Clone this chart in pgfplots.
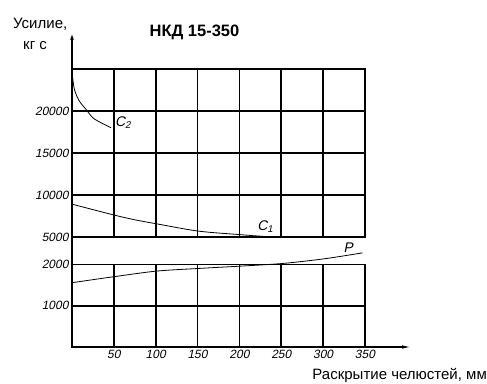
\documentclass[border=0pt]{standalone}
\usepackage{fontspec}
\setmainfont{Liberation Sans}
\newfontfamily\slsans{Liberation Sans}[FakeSlant=0.2]
\usepackage{pgfplots}
\pgfplotsset{compat=1.18}
\usetikzlibrary{arrows.meta}
\begin{document}
\begin{tikzpicture}
\useasboundingbox (0pt,0pt) rectangle (487pt,383pt);
\pgfplotsset{
  myax/.style={
    anchor=south west, scale only axis, width=293pt,
    xmin=0, xmax=350, xtick={0,50,...,350},
    grid=major, major grid style={black, line width=1.6pt},
    axis line style={black, line width=1.6pt},
    major tick length=0pt,
    clip=false,
    scaled y ticks=false, scaled x ticks=false,
    /pgf/number format/assume math mode=true,
    /pgf/number format/1000 sep={},
    xticklabel style={font=\slsans\fontsize{12}{12}\selectfont},
    yticklabel style={font=\slsans\fontsize{12}{12}\selectfont},
  }
}
\begin{axis}[myax, name=upper, at={(72pt,146pt)}, height=168pt,
  ymin=5000, ymax=25000,
  ytick={5000,10000,15000,20000,25000},
  yticklabels={5000,10000,15000,20000,},
  xticklabels={}]
\addplot[black, line width=0.8pt, smooth] coordinates {
 (0,24700) (2.8,22600) (8.7,21200) (16.7,20200) (24.8,19200) (34.7,18600) (46.7,18000)};
\addplot[black, line width=0.8pt, smooth] coordinates {
 (0,8910) (50,7620) (75,7050) (101,6570) (151,5700) (201,5280) (230,5060)};
\node[font=\slsans\fontsize{14}{14}\selectfont] at (axis cs:61,18660) {C\textsubscript{2}};
\node[font=\slsans\fontsize{14}{14}\selectfont] at (axis cs:231,6195) {C\textsubscript{1}};
\end{axis}
\begin{axis}[myax, name=lower, at={(72pt,36pt)}, height=82.5pt,
  ymin=0, ymax=2000,
  ytick={0,1000,2000},
  yticklabels={,1000,2000},
  xticklabels={,50,100,150,200,250,300,350}]
\addplot[black, line width=0.8pt, smooth] coordinates {
 (0,1559) (50,1704) (101,1840) (151,1904) (201,1960) (251,2024) (301,2137) (347,2282)};
\node[font=\slsans\fontsize{14}{14}\selectfont] at (axis cs:330,2410) {P};
\end{axis}
\draw[black, line width=1.6pt, -{Latex[length=9pt,width=3.5pt]}] (72pt,35.2pt) -- (72pt,352pt);
\draw[black, line width=1.2pt, -{Latex[length=9pt,width=3.5pt]}] (71pt,36pt) -- (411pt,36pt);
\node[anchor=base west, font=\fontsize{15}{15}\selectfont, inner sep=0pt] at (13pt,354pt) {Усилие,};
\node[anchor=base west, font=\fontsize{15}{15}\selectfont, inner sep=0pt] at (23pt,333pt) {кг с};
\node[anchor=base, font=\bfseries\fontsize{16.5}{16.5}\selectfont, inner sep=0pt] at (194.5pt,346pt) {НКД 15-350};
\node[anchor=base east, font=\fontsize{15}{15}\selectfont, inner sep=0pt] at (487pt,4pt) {Раскрытие челюстей, мм};
\end{tikzpicture}
\end{document}
